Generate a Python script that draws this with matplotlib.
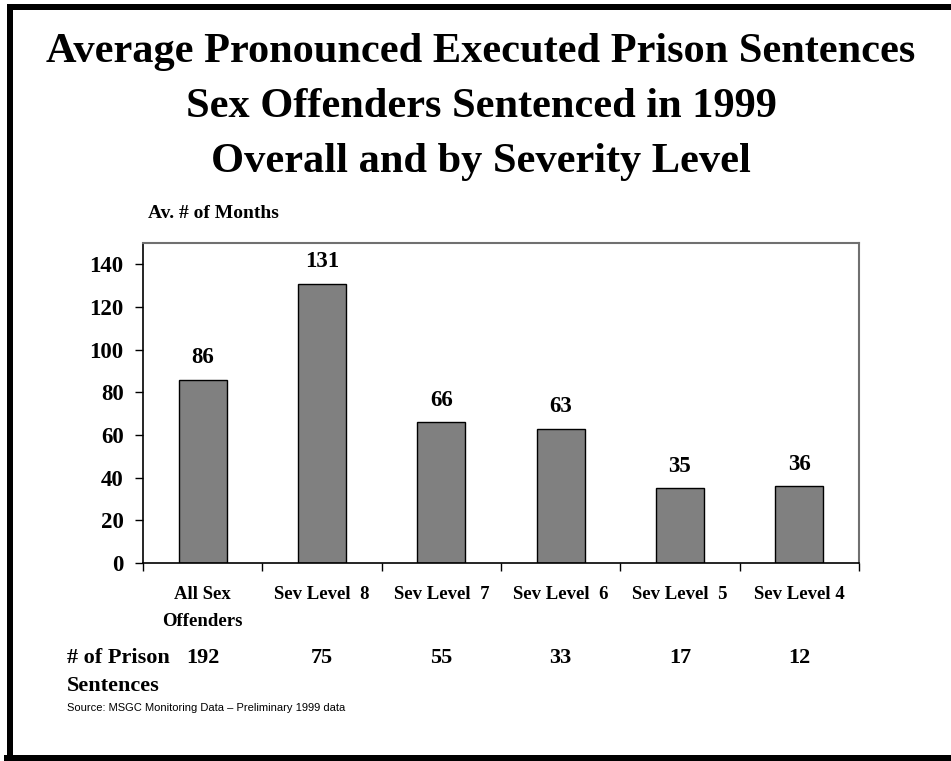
import numpy as np
import matplotlib
matplotlib.use("Agg")
import matplotlib.pyplot as plt
from matplotlib.lines import Line2D
from matplotlib import transforms

categories = ["All Sex\nOffenders", "Sev Level  8", "Sev Level  7", "Sev Level  6",
              "Sev Level  5", "Sev Level 4"]
avg_months = [86, 131, 66, 63, 35, 36]
prison_counts = [192, 75, 55, 33, 17, 12]

title_lines = ["Average Pronounced Executed Prison Sentences",
               "Sex Offenders Sentenced in 1999",
               "Overall and by Severity Level"]

W, H = 951, 761
serif = ["Liberation Serif", "DejaVu Serif"]

fig = plt.figure(figsize=(W / 100, H / 100), dpi=100)
fig.patch.set_facecolor("white")

# frame around the slide (right edge runs off the page)
lw = 6 * 72 / 100
fig.add_artist(Line2D([7 / W, 1.0], [1 - 7 / H, 1 - 7 / H], color="black", lw=lw,
                      transform=fig.transFigure, solid_capstyle="butt"))
fig.add_artist(Line2D([9.5 / W, 9.5 / W], [1 - 4 / H, 4 / H], color="black", lw=lw,
                      transform=fig.transFigure, solid_capstyle="butt"))
fig.add_artist(Line2D([4 / W, 1.0], [3.5 / H, 3.5 / H], color="black", lw=lw,
                      transform=fig.transFigure, solid_capstyle="butt"))

# title, one baseline per line
for i, line in enumerate(title_lines):
    fig.text(481 / W, 1 - (62 + 55 * i) / H, line, ha="center", va="baseline",
             fontsize=30.5, fontweight="bold", family=serif)

ax = fig.add_axes([143 / W, 1 - 563 / H, (859 - 143) / W, (563 - 243) / H])
x = np.arange(len(categories))
ax.bar(x, avg_months, width=0.4, color="#808080", edgecolor="black", linewidth=1)

ax.set_xlim(-0.5, len(categories) - 0.5)
ax.set_ylim(0, 150)
ax.set_yticks(range(0, 141, 20))
ax.set_yticklabels([str(v) for v in range(0, 141, 20)], fontsize=16.5,
                   fontweight="bold", family=serif)
ax.tick_params(axis="y", length=6, width=1, pad=8, color="black")

# category ticks sit between the bars
ax.set_xticks(np.arange(len(categories) + 1) - 0.5)
ax.set_xticklabels([])
ax.tick_params(axis="x", length=6, width=1, color="black")
lab_tr = transforms.blended_transform_factory(ax.transData, fig.transFigure)
for xi, lab in zip(x, categories):
    for j, part in enumerate(lab.split("\n")):
        ax.text(xi, 1 - (599 + 27 * j) / H, part, transform=lab_tr,
                ha="center", va="baseline", fontsize=13.5, fontweight="bold",
                family=serif)

for side in ["top", "right"]:
    ax.spines[side].set_color("#707070")
    ax.spines[side].set_linewidth(1.5)
for side in ["left", "bottom"]:
    ax.spines[side].set_color("black")
    ax.spines[side].set_linewidth(1.2)

for xi, v in zip(x, avg_months):
    ax.annotate(str(v), (xi, v), xytext=(0, 8), textcoords="offset points",
                ha="center", va="bottom", fontsize=16.5, fontweight="bold", family=serif)

fig.text(148 / W, 1 - 213 / H, "Av. # of Months", ha="left", va="center",
         fontsize=14, fontweight="bold", family=serif)

# number of sentences per group
for xi, n in zip(x, prison_counts):
    ax.text(xi, 1 - 658 / H, str(n), transform=lab_tr, ha="center", va="center",
            fontsize=16, fontweight="bold", family=serif)
fig.text(67 / W, 1 - 658 / H, "# of Prison", ha="left", va="center",
         fontsize=16, fontweight="bold", family=serif)
fig.text(67 / W, 1 - 686 / H, "Sentences", ha="left", va="center",
         fontsize=16, fontweight="bold", family=serif)

fig.text(67 / W, 1 - 708 / H, "Source: MSGC Monitoring Data \u2013 Preliminary 1999 data",
         ha="left", va="center", fontsize=8, family=["Liberation Sans", "DejaVu Sans"])

fig.savefig("out.png", dpi=100)
